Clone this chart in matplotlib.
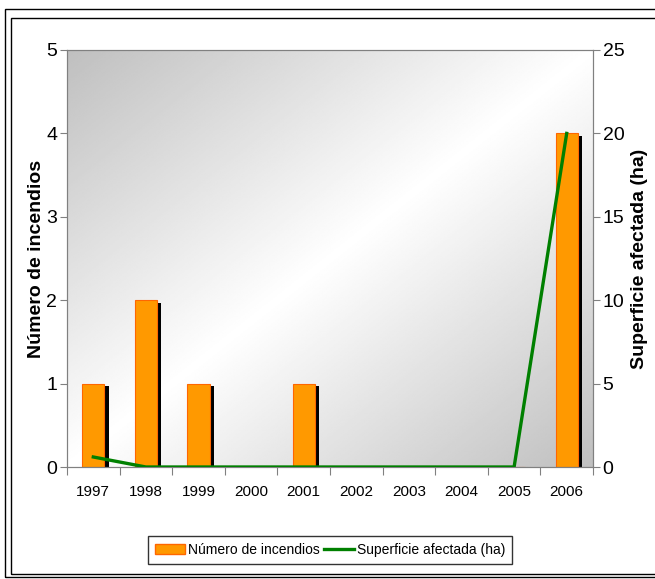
import numpy as np
import matplotlib.pyplot as plt
import matplotlib.patheffects as pe
from matplotlib.patches import Rectangle, Patch
from matplotlib.lines import Line2D

plt.rcParams['font.family'] = ['Liberation Sans', 'DejaVu Sans']

years = ['1997', '1998', '1999', '2000', '2001', '2002', '2003', '2004', '2005', '2006']
incendios = [1, 2, 1, 0, 1, 0, 0, 0, 0, 4]
superficie = [0.6, 0, 0, 0, 0, 0, 0, 0, 0, 20]

W, H = 655, 579
fig = plt.figure(figsize=(W / 100, H / 100), dpi=100)

# double frame around the chart
fig.patches.append(Rectangle((5 / W, 1 - 577 / H), 700 / W, (577 - 9) / H,
                             transform=fig.transFigure, fill=False, lw=1.0, ec='black'))
fig.patches.append(Rectangle((11 / W, 1 - 574 / H), 700 / W, (574 - 18) / H,
                             transform=fig.transFigure, fill=False, lw=1.0, ec='black'))

ax = fig.add_axes([67 / W, 1 - 467 / H, (593 - 67) / W, (467 - 50) / H])
x = np.arange(len(years))

# diagonal gradient background: gray corners, white along the anti-diagonal
u, v = np.meshgrid(np.linspace(0, 1, 300), np.linspace(0, 1, 300))
t = (u + v) / 2
g = 0.75 + 0.25 * (1 - np.abs(t - 0.5) * 2)
ax.imshow(g, cmap='gray', vmin=0, vmax=1, extent=[-0.5, len(years) - 0.5, 0, 5],
          aspect='auto', origin='upper', zorder=0, interpolation='bilinear')

bars = ax.bar(x, incendios, width=0.42, color='#FF9900', edgecolor='#FF6600',
              linewidth=0.8, zorder=2)
for b in bars:
    b.set_path_effects([pe.SimplePatchShadow(offset=(3, -2), shadow_rgbFace='black',
                                             alpha=1.0), pe.Normal()])

ax.set_xlim(-0.5, len(years) - 0.5)
ax.set_ylim(0, 5)
ax.set_yticks(range(0, 6))
ax.set_xticks(np.arange(-0.5, len(years), 1.0))
ax.set_xticklabels([])
ax.set_xticks(x, minor=True)
ax.set_xticklabels(years, minor=True, fontsize=11)
ax.tick_params(axis='x', which='major', length=6, color='#808080', direction='out')
ax.tick_params(axis='x', which='minor', length=0, pad=13)
ax.tick_params(axis='y', length=5, color='#808080', labelsize=14, pad=2)
ax.set_ylabel('Número de incendios', fontsize=14, fontweight='bold', labelpad=1)
for s in ax.spines.values():
    s.set_color('#808080')

ax2 = ax.twinx()
ax2.plot(x, superficie, color='#008000', lw=2.4, zorder=3)
ax2.set_ylim(0, 25)
ax2.set_yticks(range(0, 26, 5))
ax2.tick_params(axis='y', length=5, color='#808080', labelsize=14, pad=2)
ax2.set_ylabel('Superficie afectada (ha)', fontsize=14, fontweight='bold', labelpad=5)
for s in ax2.spines.values():
    s.set_color('#808080')

handles = [Patch(facecolor='#FF9900', edgecolor='#FF6600', label='Número de incendios'),
           Line2D([0], [0], color='#008000', lw=2.4, label='Superficie afectada (ha)')]
leg = fig.legend(handles=handles, loc='center', bbox_to_anchor=(330 / W, 1 - 550 / H),
                 ncol=2, fontsize=10, frameon=True, fancybox=False, edgecolor='black',
                 handlelength=2.2, handletextpad=0.2, columnspacing=0.3,
                 borderpad=0.5)
leg.get_frame().set_linewidth(1.0)

fig.savefig('out.png', dpi=100)
